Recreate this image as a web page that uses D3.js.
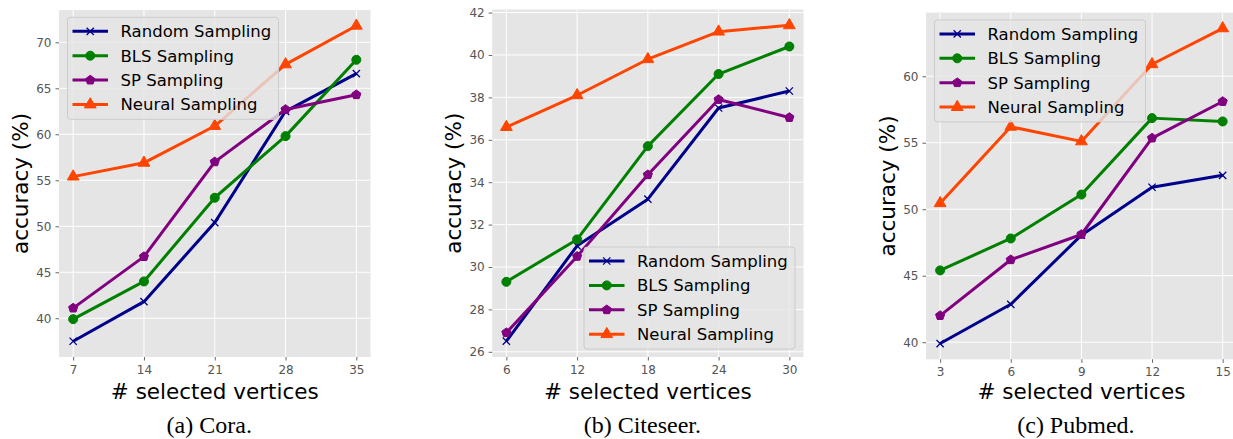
<!DOCTYPE html>
<html>
<head>
<meta charset="utf-8">
<script src="https://cdn.jsdelivr.net/npm/d3@7"></script>
<style>
  body { margin: 0; background: #ffffff; }
  svg { display: block; }
</style>
</head>
<body>
<div class="chart"></div>
<script>
// series names / colours / markers
var seriesNames = ["Random Sampling", "BLS Sampling", "SP Sampling", "Neural Sampling"]
var colors = ["#00008b", "#008000", "#800080", "#ff4500"]
var markers = ["x", "circle", "pentagon", "triangle"]

// (a) Cora
var coraX = [7, 14, 21, 28, 35]
var coraRandom = [37.5, 41.8, 50.4, 62.5, 66.6]
var coraBLS = [39.9, 44.0, 53.1, 59.8, 68.1]
var coraSP = [41.1, 46.7, 57.0, 62.7, 64.3]
var coraNeural = [55.4, 56.9, 60.9, 67.6, 71.8]
var coraYTicks = [40, 45, 50, 55, 60, 65, 70]

// (b) Citeseer
var citeX = [6, 12, 18, 24, 30]
var citeRandom = [26.5, 31.0, 33.2, 37.5, 38.3]
var citeBLS = [29.3, 31.3, 35.7, 39.1, 40.4]
var citeSP = [26.9, 30.5, 34.35, 37.9, 37.05]
var citeNeural = [36.6, 38.1, 39.8, 41.1, 41.4]
var citeYTicks = [26, 28, 30, 32, 34, 36, 38, 40, 42]

// (c) Pubmed
var pubX = [3, 6, 9, 12, 15]
var pubRandom = [39.9, 42.85, 48.05, 51.65, 52.55]
var pubBLS = [45.4, 47.8, 51.1, 56.85, 56.6]
var pubSP = [42.0, 46.2, 48.1, 55.35, 58.1]
var pubNeural = [50.45, 56.2, 55.1, 60.9, 63.6]
var pubYTicks = [40, 45, 50, 55, 60]

var width = 1233, height = 439

var svg = d3.select(".chart").append("svg")
    .attr("width", width)
    .attr("height", height)
    .style("background-color", "#ffffff")

var panels = [
  { x: coraX, series: [coraRandom, coraBLS, coraSP, coraNeural], yTicks: coraYTicks,
    left: 59, right: 370.5, top: 10, bottom: 357, legend: "upper left", caption: "(a) Cora." },
  { x: citeX, series: [citeRandom, citeBLS, citeSP, citeNeural], yTicks: citeYTicks,
    left: 492.2, right: 803.5, top: 9.5, bottom: 357, legend: "lower right", caption: "(b) Citeseer." },
  { x: pubX, series: [pubRandom, pubBLS, pubSP, pubNeural], yTicks: pubYTicks,
    left: 926, right: 1236.8, top: 12.6, bottom: 359.3, legend: "upper left", caption: "(c) Pubmed." }
]

// matplotlib style 5% margins
function padded(vals){
  var lo = d3.min(vals), hi = d3.max(vals), m = (hi - lo) * 0.05
  return [lo - m, hi + m]
}

function markerPath(kind){
  if(kind == "x") return d3.symbol(d3.symbolX, 36)()
  if(kind == "circle") return d3.symbol(d3.symbolCircle, 64)()
  if(kind == "triangle") return d3.symbol(d3.symbolTriangle, 60)()
  // pentagon
  var r = 4.8, pts = []
  for(var k = 0; k < 5; k++){
    var a = -Math.PI / 2 + k * 2 * Math.PI / 5
    pts.push([r * Math.cos(a), r * Math.sin(a)])
  }
  return "M" + pts.join("L") + "Z"
}

function drawMarker(g, kind, color, x, y){
  var p = g.append("path")
      .attr("d", markerPath(kind))
      .attr("transform", "translate(" + x + "," + y + ")")
  if(kind == "x"){
    p.attr("fill", "none").attr("stroke", color).attr("stroke-width", 1.3)
  } else {
    p.attr("fill", color).attr("stroke", color).attr("stroke-width", 1)
  }
}

panels.forEach(function(pn, pi){
  var clipId = "clip" + pi
  svg.append("clipPath").attr("id", clipId)
    .append("rect")
    .attr("x", pn.left).attr("y", pn.top)
    .attr("width", pn.right - pn.left).attr("height", pn.bottom - pn.top)

  var xScale = d3.scaleLinear().domain(padded(pn.x)).range([pn.left, pn.right])
  var yScale = d3.scaleLinear().domain(padded(d3.merge(pn.series))).range([pn.bottom, pn.top])

  var g = svg.append("g")

  g.append("rect")
    .attr("x", pn.left).attr("y", pn.top)
    .attr("width", pn.right - pn.left).attr("height", pn.bottom - pn.top)
    .attr("fill", "#e5e5e5")

  // grid
  var grid = g.append("g").attr("clip-path", "url(#" + clipId + ")")
  pn.x.forEach(function(t){
    grid.append("line")
      .attr("x1", xScale(t)).attr("x2", xScale(t))
      .attr("y1", pn.top).attr("y2", pn.bottom)
      .attr("stroke", "#ffffff").attr("stroke-width", 1)
  })
  pn.yTicks.forEach(function(t){
    grid.append("line")
      .attr("x1", pn.left).attr("x2", pn.right)
      .attr("y1", yScale(t)).attr("y2", yScale(t))
      .attr("stroke", "#ffffff").attr("stroke-width", 1)
  })

  // axes
  var xAxis = d3.axisBottom(xScale).tickValues(pn.x).tickSize(3.5).tickPadding(5)
  var yAxis = d3.axisLeft(yScale).tickValues(pn.yTicks).tickSize(3.5).tickPadding(4)
  var gx = g.append("g")
      .attr("transform", "translate(0," + pn.bottom + ")")
      .call(xAxis)
  var gy = g.append("g")
      .attr("transform", "translate(" + pn.left + ",0)")
      .call(yAxis)
  ;[gx, gy].forEach(function(ax){
    ax.select(".domain").remove()
    ax.selectAll(".tick line").attr("stroke", "#555555").attr("stroke-width", 0.9)
    ax.selectAll(".tick text")
      .attr("fill", "#555555")
      .style("font-family", "DejaVu Sans")
      .style("font-size", "12px")
  })

  // lines and markers
  var line = d3.line()
      .x(function(d, i){ return xScale(pn.x[i]) })
      .y(function(d){ return yScale(d) })
  var plot = g.append("g").attr("clip-path", "url(#" + clipId + ")")
  pn.series.forEach(function(vals, si){
    plot.append("path")
      .attr("d", line(vals))
      .attr("fill", "none")
      .attr("stroke", colors[si])
      .attr("stroke-width", 3)
      .attr("stroke-linejoin", "round")
    vals.forEach(function(v, i){
      drawMarker(plot, markers[si], colors[si], xScale(pn.x[i]), yScale(v))
    })
  })

  // legend
  var lw = 211, lh = 102
  var lx = pn.legend == "upper left" ? pn.left + 8.5 : pn.right - 8.5 - lw
  var ly = pn.legend == "upper left" ? pn.top + 7.3 : pn.bottom - 8 - lh
  var leg = g.append("g").attr("transform", "translate(" + lx + "," + ly + ")")
  leg.append("rect")
    .attr("width", lw).attr("height", lh)
    .attr("rx", 3).attr("ry", 3)
    .attr("fill", "#e5e5e5").attr("fill-opacity", 0.8)
    .attr("stroke", "#cccccc").attr("stroke-width", 1)
  seriesNames.forEach(function(name, si){
    var ry = 14 + si * 24.4
    leg.append("line")
      .attr("x1", 5).attr("x2", 40.5)
      .attr("y1", ry).attr("y2", ry)
      .attr("stroke", colors[si]).attr("stroke-width", 3)
    drawMarker(leg, markers[si], colors[si], 22.75, ry)
    leg.append("text")
      .text(name)
      .attr("x", 53).attr("y", ry)
      .attr("dy", "0.36em")
      .style("font-family", "DejaVu Sans")
      .style("font-size", "16.5px")
      .attr("fill", "#000000")
  })

  // axis labels + caption
  var cx = (pn.left + pn.right) / 2
  g.append("text")
    .text("# selected vertices")
    .attr("x", cx).attr("y", 399)
    .attr("text-anchor", "middle")
    .style("font-family", "DejaVu Sans")
    .style("font-size", "21.5px")
  g.append("text")
    .text("accuracy (%)")
    .attr("transform", "translate(" + (pn.left - 31.5) + "," + ((pn.top + pn.bottom) / 2) + ") rotate(-90)")
    .attr("text-anchor", "middle")
    .style("font-family", "DejaVu Sans")
    .style("font-size", "21.5px")
  g.append("text")
    .text(pn.caption)
    .attr("x", cx - 5.5).attr("y", 433)
    .attr("text-anchor", "middle")
    .style("font-family", "Liberation Serif")
    .style("font-size", "24px")
})
</script>
</body>
</html>
